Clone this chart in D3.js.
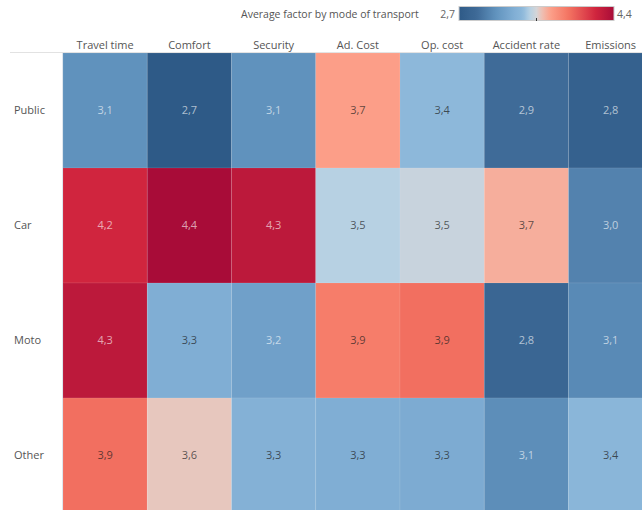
<!DOCTYPE html>
<html>
<head>
<meta charset="utf-8">
<script src="https://cdn.jsdelivr.net/npm/d3@7"></script>
<style>
  body { margin: 0; background: #fff; font-family: "Open Sans", sans-serif; }
  #canvas { width: 642px; height: 510px; overflow: hidden; }
</style>
</head>
<body>
<div id="canvas" class="canvas"></div>
<script>
// data
var modes = ['Public', 'Car', 'Moto', 'Other'];
var factors = ['Travel time', 'Comfort', 'Security', 'Ad. Cost', 'Op. cost', 'Accident rate', 'Emissions'];
var publicVals = [3.10, 2.70, 3.10, 3.71, 3.40, 2.90, 2.78];
var carVals    = [4.20, 4.40, 4.30, 3.48, 3.52, 3.66, 3.02];
var motoVals   = [4.30, 3.30, 3.20, 3.86, 3.92, 2.84, 3.06];
var otherVals  = [3.92, 3.59, 3.33, 3.30, 3.28, 3.08, 3.38];
var legendRange = [2.7, 4.4];

var rows = [publicVals, carVals, motoVals, otherVals];
var cells = [];
rows.forEach(function(vals, i){
    vals.forEach(function(v, j){
        cells.push({mode: modes[i], factor: factors[j], value: v});
    });
});

var W = 642, H = 510;
var m = {t:53, l:63};
var colW = 84.25, rowH = 115;

var svg = d3.select('.canvas')
    .append('svg')
    .attr('width', W)
    .attr('height', H);

var x = d3.scaleBand().domain(factors).range([m.l, m.l + colW * factors.length]).padding(0);
var y = d3.scaleBand().domain(modes).range([m.t, m.t + rowH * modes.length]).padding(0);

// tableau-ish red-blue diverging
var color = d3.scaleLinear()
    .domain([2.7, 2.9, 3.1, 3.3, 3.4, 3.47, 3.55, 3.6, 3.7, 3.9, 4.2, 4.4])
    .range(['#2e5a87', '#3f6b98', '#6092bd', '#80aed4', '#8db8da', '#b3d0e4', '#d4d5d8', '#ecc3b8', '#fca08a', '#f47462', '#d0253e', '#a80c38'])
    .interpolate(d3.interpolateRgb)
    .clamp(true);

// header line
svg.append('line')
    .attr('x1', 10).attr('x2', W)
    .attr('y1', m.t - 0.5).attr('y2', m.t - 0.5)
    .attr('stroke', '#e2e2e2');

// cells
svg.selectAll('.cell')
    .data(cells)
    .enter()
    .append('rect').attr('class', 'cell')
    .attr('x', function(d){ return x(d.factor); })
    .attr('y', function(d){ return y(d.mode); })
    .attr('width', x.bandwidth())
    .attr('height', y.bandwidth())
    .attr('fill', function(d){ return color(d.value); })
    .attr('stroke', 'rgba(255,255,255,0.08)')
    .attr('stroke-width', 1);

// left edge
svg.append('line')
    .attr('x1', m.l - 0.5).attr('x2', m.l - 0.5)
    .attr('y1', m.t).attr('y2', H)
    .attr('stroke', '#dfe6ee');

var fmt = function(v){ return d3.format('.1f')(v).replace('.', ','); };

svg.selectAll('.val')
    .data(cells)
    .enter()
    .append('text').attr('class', 'val')
    .attr('x', function(d){ return x(d.factor) + x.bandwidth() / 2; })
    .attr('y', function(d){ return y(d.mode) + y.bandwidth() / 2; })
    .attr('dy', '0.35em')
    .attr('text-anchor', 'middle')
    .style('font-size', '11px')
    .attr('fill', function(d){
        return (d.value <= 3.2 || d.value >= 4.0) ? 'rgba(255,255,255,0.62)' : 'rgba(30,30,30,0.72)';
    })
    .text(function(d){ return fmt(d.value); });

// column headers
svg.selectAll('.colhead')
    .data(factors)
    .enter()
    .append('text').attr('class', 'colhead')
    .attr('x', function(d){ return x(d) + x.bandwidth() / 2; })
    .attr('y', 45)
    .attr('dy', '0.35em')
    .attr('text-anchor', 'middle')
    .style('font-size', '11px')
    .attr('fill', '#555')
    .text(function(d){ return d; });

// row headers
svg.selectAll('.rowhead')
    .data(modes)
    .enter()
    .append('text').attr('class', 'rowhead')
    .attr('x', 14)
    .attr('y', function(d){ return y(d) + y.bandwidth() / 2; })
    .attr('dy', '0.35em')
    .style('font-size', '11px')
    .attr('fill', '#555')
    .text(function(d){ return d; });

// legend
var lg = svg.append('g').attr('class', 'legend');
var lx = d3.scaleLinear().domain(legendRange).range([459, 614]);
var grad = svg.append('defs').append('linearGradient').attr('id', 'lgrad');
d3.range(0, 1.0001, 0.02).forEach(function(t){
    var v = legendRange[0] + t * (legendRange[1] - legendRange[0]);
    grad.append('stop').attr('offset', (t * 100) + '%').attr('stop-color', color(v));
});
lg.append('rect')
    .attr('x', lx(legendRange[0])).attr('y', 6.5)
    .attr('width', lx(legendRange[1]) - lx(legendRange[0])).attr('height', 14)
    .attr('fill', 'url(#lgrad)')
    .attr('stroke', '#ccc');
var mid = (legendRange[0] + legendRange[1]) / 2;
lg.append('line')
    .attr('x1', lx(mid)).attr('x2', lx(mid))
    .attr('y1', 18).attr('y2', 21)
    .attr('stroke', '#333');
lg.append('text')
    .attr('x', 241).attr('y', 14).attr('dy', '0.35em')
    .style('font-size', '10.5px').attr('fill', '#555')
    .text('Average factor by mode of transport');
lg.append('text')
    .attr('x', lx(legendRange[0]) - 4).attr('y', 14).attr('dy', '0.35em')
    .attr('text-anchor', 'end')
    .style('font-size', '10.5px').attr('fill', '#666')
    .text(fmt(legendRange[0]));
lg.append('text')
    .attr('x', lx(legendRange[1]) + 3).attr('y', 14).attr('dy', '0.35em')
    .style('font-size', '10.5px').attr('fill', '#666')
    .text(fmt(legendRange[1]));
</script>
</body>
</html>
